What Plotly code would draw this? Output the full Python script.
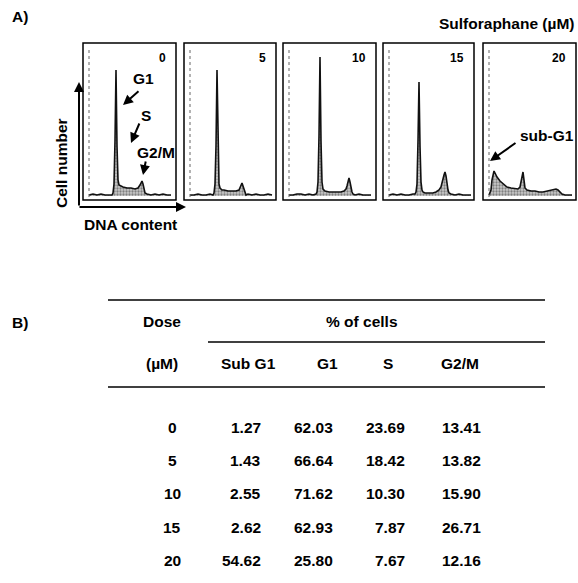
import plotly.graph_objects as go

W, H = 578, 583

# ---------------- data ----------------
panel_labels = ["0", "5", "10", "15", "20"]

ch1 = [6, 10, 14, 18, 22, 26, 29, 30, 31, 32, 33, 34, 35, 36, 38, 40, 44, 48, 52, 55, 57, 58, 59, 60, 61, 62, 64, 68, 72, 76, 80, 84, 88]
n1 = [1, 2, 1, 2, 1, 1, 1, 3, 12, 55, 126, 50, 16, 11, 10, 9, 8, 8, 7, 8, 11, 13, 15, 12, 6, 3, 2, 1, 2, 1, 2, 1, 1]

ch2 = [6, 10, 14, 18, 22, 26, 29, 30, 31, 32, 33, 34, 35, 36, 38, 40, 44, 48, 52, 55, 56, 57, 58, 59, 60, 61, 62, 64, 68, 72, 76, 80, 84, 88]
n2 = [1, 1, 2, 1, 1, 2, 1, 3, 12, 50, 126, 45, 12, 8, 6, 6, 5, 5, 5, 6, 8, 11, 13, 10, 6, 3, 1, 2, 1, 2, 1, 1, 2, 1]

ch3 = [6, 10, 14, 18, 22, 26, 30, 33, 34, 35, 36, 37, 38, 39, 40, 42, 46, 50, 54, 58, 61, 63, 64, 65, 66, 67, 68, 69, 70, 72, 76, 80, 84, 88]
n3 = [1, 1, 2, 2, 1, 2, 1, 2, 4, 14, 60, 139, 55, 14, 7, 5, 4, 4, 4, 4, 5, 7, 10, 14, 18, 14, 8, 4, 2, 1, 2, 1, 1, 1]

ch4 = [6, 10, 14, 18, 22, 26, 30, 32, 33, 34, 35, 36, 37, 38, 39, 40, 42, 46, 50, 53, 56, 58, 59, 60, 61, 62, 63, 64, 65, 66, 68, 72, 76, 80, 84, 88]
n4 = [1, 2, 1, 2, 1, 1, 2, 2, 4, 12, 55, 114, 50, 14, 6, 4, 3, 3, 3, 4, 6, 9, 12, 17, 21, 24, 20, 12, 6, 3, 2, 1, 2, 1, 1, 1]

ch5 = [6, 8, 9, 10, 11, 12, 14, 17, 20, 24, 28, 32, 35, 37, 38, 39, 40, 41, 42, 44, 48, 52, 56, 60, 64, 68, 71, 73, 75, 77, 79, 82, 86, 89]
n5 = [1, 6, 16, 22, 25, 23, 19, 15, 12, 9, 8, 7, 7, 9, 13, 19, 24, 16, 8, 6, 5, 5, 4, 4, 5, 6, 7, 7, 6, 4, 2, 1, 1, 1]

doses = ["0", "5", "10", "15", "20"]
sub_g1 = [1.27, 1.43, 2.55, 2.62, 54.62]
g1 = [62.03, 66.64, 71.62, 62.93, 25.80]
s_phase = [23.69, 18.42, 10.30, 7.87, 7.67]
g2m = [13.41, 13.82, 15.90, 26.71, 12.16]
col_headers = ["Sub G1", "G1", "S", "G2/M"]

# ---------------- helpers ----------------
def px(x):
    return x / W


def py(y):
    return 1 - y / H


FONT = "Liberation Sans, Arial, Helvetica, sans-serif"

panels = [(83, 176), (184, 276), (283, 376), (383, 474), (483, 576)]
TOP, BOT = 43, 200
chans = [ch1, ch2, ch3, ch4, ch5]
counts = [n1, n2, n3, n4, n5]

fig = go.Figure()
layout = dict(
    width=W, height=H, margin=dict(l=0, r=0, t=0, b=0),
    paper_bgcolor="white", plot_bgcolor="rgba(0,0,0,0)", showlegend=False,
)
shapes = []
annotations = []


def label(txt, x, y, size=15.5, xanchor="center", angle=0):
    annotations.append(dict(text="<b>%s</b>" % txt, xref="paper", yref="paper", x=px(x), y=py(y),
                            xanchor=xanchor, yanchor="middle", showarrow=False, textangle=angle,
                            font=dict(family=FONT, size=size, color="black")))


for i, ((l, r), ch, n) in enumerate(zip(panels, chans, counts), start=1):
    sfx = "" if i == 1 else str(i)
    fig.add_trace(go.Scatter(
        x=ch, y=n, xaxis="x" + sfx, yaxis="y" + sfx, mode="lines",
        line=dict(color="#111111", width=1.6),
        fill="tozeroy", fillcolor="#c4c4c4",
        fillpattern=dict(shape=".", fgcolor="#333333", bgcolor="#cacaca", size=3, solidity=0.45),
        hoverinfo="skip", showlegend=False,
    ))
    layout["xaxis" + sfx] = dict(domain=[px(l), px(r)], range=[0, r - l], visible=False,
                                 anchor="y" + sfx, fixedrange=True)
    layout["yaxis" + sfx] = dict(domain=[py(BOT), py(TOP)], range=[-4, BOT - TOP - 4], visible=False,
                                 anchor="x" + sfx, fixedrange=True)
    shapes.append(dict(type="rect", xref="paper", yref="paper", x0=px(l), x1=px(r), y0=py(BOT), y1=py(TOP),
                       line=dict(color="black", width=1.5)))
    shapes.append(dict(type="line", xref="paper", yref="paper", x0=px(l + 6), x1=px(l + 6),
                       y0=py(BOT - 3), y1=py(TOP + 6), line=dict(color="#666666", width=1, dash="dot")))
    label(panel_labels[i - 1], r - 8, 58, size=12, xanchor="right")

# axis arrows (Cell number / DNA content)
annotations.append(dict(text="", xref="paper", yref="paper", x=px(79), y=py(82), ax=0, ay=125,
                        showarrow=True, arrowhead=2, arrowsize=1, arrowwidth=2, arrowcolor="black", standoff=0))
annotations.append(dict(text="", xref="paper", yref="paper", x=px(186), y=py(207), ax=-108, ay=0,
                        showarrow=True, arrowhead=2, arrowsize=1, arrowwidth=2, arrowcolor="black", standoff=0))
label("Cell number", 61, 163, angle=-90)
label("DNA content", 130, 225)


def arrow(hx, hy, tx, ty):
    annotations.append(dict(text="", xref="paper", yref="paper", x=px(hx), y=py(hy), ax=tx - hx, ay=ty - hy,
                            showarrow=True, arrowhead=2, arrowsize=1, arrowwidth=2, arrowcolor="black",
                            standoff=0))


arrow(123, 105, 140, 90)
arrow(131, 143, 140, 122)
arrow(143, 175, 146, 160)
arrow(490, 161, 517, 142)

label("G1", 143, 78)
label("S", 146, 115)
label("G2/M", 135, 152, xanchor="left")
label("sub-G1", 518, 135, xanchor="left")
label("Sulforaphane (µM)", 577, 23, xanchor="right")
label("A)", 10, 17, xanchor="left")
label("B)", 10, 322, xanchor="left")

# ---------------- table ----------------
for (x0, x1, y) in [(108, 545, 300), (208, 545, 342), (108, 545, 387)]:
    shapes.append(dict(type="line", xref="paper", yref="paper", x0=px(x0), x1=px(x1), y0=py(y), y1=py(y),
                       line=dict(color="black", width=1.5)))

label("Dose", 162, 321)
label("% of cells", 362, 321)
label("(µM)", 162, 363)
for h, x in zip(col_headers, [248, 327, 388, 460]):
    label(h, x, 363)

row_y = [427, 460, 493, 527, 560]
col_right = [263, 335, 407, 483]
for k, y in enumerate(row_y):
    label(doses[k], 172, y)
    for vals, xr in zip([sub_g1, g1, s_phase, g2m], col_right):
        label("%.2f" % vals[k], xr, y, xanchor="right")

layout["shapes"] = shapes
layout["annotations"] = annotations
fig.update_layout(**layout)
fig.write_html("out.html", config={"displayModeBar": False},
               post_script="document.body.style.margin='0';document.body.style.overflow='hidden';")
